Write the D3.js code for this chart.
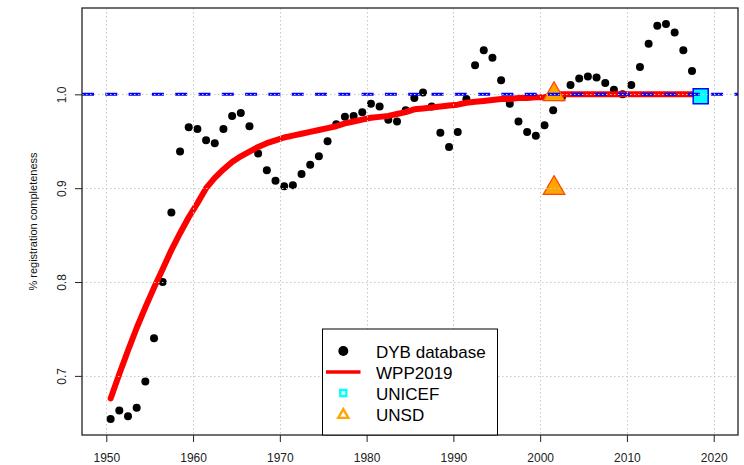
<!DOCTYPE html>
<html>
<head>
<meta charset="utf-8">
<script src="https://d3js.org/d3.v7.min.js"></script>
<style>
  body { margin: 0; background: #fff; }
  text { font-family: "Liberation Sans", Arial, sans-serif; }
</style>
</head>
<body>
<svg id="chart" width="744" height="465"></svg>
<script>
// mid-year positions of the annual estimates
var years = [1950.5,1951.5,1952.5,1953.5,1954.5,1955.5,1956.5,1957.5,1958.5,1959.5,
  1960.5,1961.5,1962.5,1963.5,1964.5,1965.5,1966.5,1967.5,1968.5,1969.5,
  1970.5,1971.5,1972.5,1973.5,1974.5,1975.5,1976.5,1977.5,1978.5,1979.5,
  1980.5,1981.5,1982.5,1983.5,1984.5,1985.5,1986.5,1987.5,1988.5,1989.5,
  1990.5,1991.5,1992.5,1993.5,1994.5,1995.5,1996.5,1997.5,1998.5,1999.5,
  2000.5,2001.5,2002.5,2003.5,2004.5,2005.5,2006.5,2007.5,2008.5,2009.5,
  2010.5,2011.5,2012.5,2013.5,2014.5,2015.5,2016.5,2017.5];

var dybValues = [0.654,0.663,0.657,0.666,0.694,0.740,0.800,0.874,0.939,0.965,
  0.963,0.951,0.948,0.963,0.977,0.980,0.966,0.937,0.919,0.908,
  0.902,0.903,0.915,0.925,0.934,0.950,0.968,0.976,0.977,0.981,
  0.990,0.987,0.973,0.971,0.983,0.996,1.002,0.987,0.959,0.944,
  0.960,0.995,1.031,1.047,1.039,1.015,0.990,0.971,0.960,0.956,
  0.967,0.983,0.997,1.010,1.017,1.019,1.018,1.012,1.005,1.000,
  1.010,1.029,1.054,1.073,1.075,1.066,1.047,1.025];

var wppValues = [0.676,0.702,0.727,0.751,0.773,0.794,0.814,0.834,0.852,0.869,
  0.884,0.900,0.911,0.920,0.928,0.934,0.939,0.944,0.948,0.951,
  0.954,0.956,0.958,0.960,0.962,0.964,0.966,0.969,0.971,0.973,
  0.975,0.976,0.977,0.979,0.981,0.984,0.985,0.986,0.987,0.988,
  0.989,0.991,0.992,0.993,0.994,0.995,0.995,0.996,0.996,0.997,
  0.997,0.999,1.000,1.000,1.000,1.000,1.000,1.000,1.000,1.000,
  1.000,1.000,1.000,1.000,1.000,1.000,1.000,1.000];

var unicefYears = [2018.5];
var unicefValues = [0.998];
var unsdYears = [2001.6, 2001.6];
var unsdValues = [1.0, 0.9];

var xTicks = [1950, 1960, 1970, 1980, 1990, 2000, 2010, 2020];
var yTicks = [0.7, 0.8, 0.9, 1.0];
var legendLabels = ["DYB database", "WPP2019", "UNICEF", "UNSD"];

var svg = d3.select("#chart");
var L = 82, R = 738, T = 8, B = 435;

var x = d3.scaleLinear().domain([1947.2, 2022.8]).range([L, R]);
var y = d3.scaleLinear().domain([0.637, 1.092]).range([B, T]);

var plot = svg.append("g");

// DYB points
plot.selectAll("circle.dyb").data(years).enter().append("circle")
  .attr("class", "dyb")
  .attr("cx", d => x(d)).attr("cy", (d, i) => y(dybValues[i]))
  .attr("r", 4).attr("fill", "#000");

// WPP2019 line
var line = d3.line().x(d => x(d)).y((d, i) => y(wppValues[i]));
plot.append("path").datum(years)
  .attr("d", line).attr("fill", "none")
  .attr("stroke", "#ff0000").attr("stroke-width", 6)
  .attr("stroke-linecap", "round").attr("stroke-linejoin", "round");

// UNSD triangles
plot.selectAll("path.unsd").data(unsdYears).enter().append("path")
  .attr("class", "unsd")
  .attr("d", d3.symbol(d3.symbolTriangle, 204))
  .attr("transform", (d, i) => "translate(" + x(d) + "," + y(unsdValues[i]) + ")")
  .attr("fill", "#ffa500").attr("stroke", "#ff4500").attr("stroke-width", 1.2);

// UNICEF square
plot.selectAll("path.unicef").data(unicefYears).enter().append("path")
  .attr("class", "unicef")
  .attr("d", d3.symbol(d3.symbolSquare, 225))
  .attr("transform", (d, i) => "translate(" + x(d) + "," + y(unicefValues[i]) + ")")
  .attr("fill", "#00ffff").attr("stroke", "#0000ff").attr("stroke-width", 1.5);

// reference line at 1.0
plot.append("line")
  .attr("x1", L).attr("x2", R).attr("y1", y(1)).attr("y2", y(1))
  .attr("stroke", "#0000ff").attr("stroke-width", 3)
  .attr("stroke-dasharray", "12,11.3");

// grid
var grid = svg.append("g").attr("stroke", "#c8c8c8").attr("stroke-width", 1)
  .attr("stroke-dasharray", "1.5,2.5");
grid.selectAll("line.gx").data(xTicks).enter().append("line")
  .attr("x1", d => Math.round(x(d)) + 0.5).attr("x2", d => Math.round(x(d)) + 0.5)
  .attr("y1", T).attr("y2", B);
grid.selectAll("line.gy").data(yTicks).enter().append("line")
  .attr("y1", d => Math.round(y(d)) + 0.5).attr("y2", d => Math.round(y(d)) + 0.5)
  .attr("x1", L).attr("x2", R);

// axes
var xAxis = svg.append("g").attr("transform", "translate(0," + B + ")")
  .style("color", "#222")
  .call(d3.axisBottom(x).tickValues(xTicks).tickSize(7).tickFormat(d3.format("d")));
xAxis.select(".domain").remove();
xAxis.selectAll("text").attr("y", 27).attr("dy", 0)
  .attr("font-size", 12).attr("font-family", "Liberation Sans, Arial, sans-serif");

var yAxis = svg.append("g").attr("transform", "translate(" + L + ",0)")
  .style("color", "#222")
  .call(d3.axisLeft(y).tickValues(yTicks).tickSize(7).tickFormat(d3.format(".1f")));
yAxis.select(".domain").remove();
yAxis.selectAll("text").attr("transform", "rotate(-90)")
  .attr("x", 0).attr("y", -16.5).attr("dy", 0)
  .attr("text-anchor", "middle")
  .attr("font-size", 12).attr("font-family", "Liberation Sans, Arial, sans-serif");

svg.append("text")
  .attr("transform", "translate(36.5," + ((T + B) / 2) + ") rotate(-90)")
  .attr("text-anchor", "middle").attr("font-size", 11).attr("fill", "#111")
  .text("% registration completeness");

// box
svg.append("rect").attr("x", L).attr("y", T).attr("width", R - L).attr("height", B - T)
  .attr("fill", "none").attr("stroke", "#222").attr("stroke-width", 1.3);

// legend
var lg = svg.append("g");
lg.append("rect").attr("x", 322.5).attr("y", 329).attr("width", 175).attr("height", 106)
  .attr("fill", "#fff").attr("stroke", "#000").attr("stroke-width", 1);
var ly = i => 351 + i * 21;
lg.append("circle").attr("cx", 343.3).attr("cy", ly(0)).attr("r", 5).attr("fill", "#000");
lg.append("line").attr("x1", 326).attr("x2", 360.5).attr("y1", ly(1)).attr("y2", ly(1))
  .attr("stroke", "#ff0000").attr("stroke-width", 3.5);
lg.append("path").attr("d", d3.symbol(d3.symbolSquare, 36))
  .attr("transform", "translate(343.3," + ly(2) + ")")
  .attr("fill", "none").attr("stroke", "#00ffff").attr("stroke-width", 2.4);
lg.append("path").attr("d", d3.symbol(d3.symbolTriangle, 44))
  .attr("transform", "translate(343.3," + (ly(3) + 1) + ")")
  .attr("fill", "none").attr("stroke", "#ffa500").attr("stroke-width", 2.4);
lg.selectAll("text.lab").data(legendLabels).enter().append("text")
  .attr("class", "lab")
  .attr("x", 376).attr("y", (d, i) => 357.5 + i * 21)
  .attr("font-size", 17).attr("fill", "#000")
  .text(d => d);
</script>
</body>
</html>
